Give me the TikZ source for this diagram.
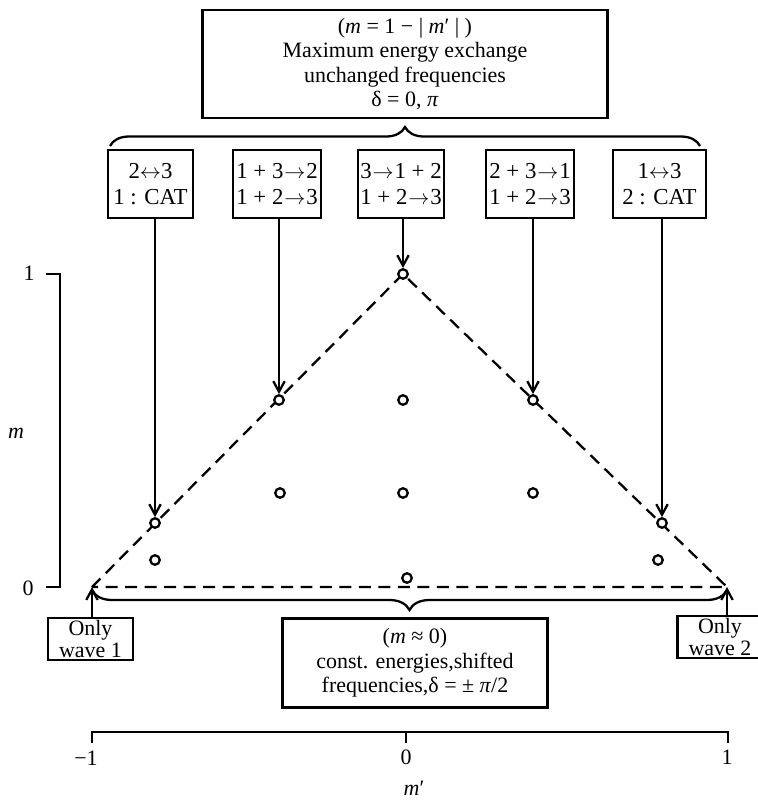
\documentclass[tikz,border=0pt]{standalone}
\usepackage{fontspec}
\setmainfont{Liberation Serif}
\usetikzlibrary{arrows.meta,decorations.pathreplacing}

\newcommand{\goesto}{\hspace{0.5pt}$\rightarrow$\hspace{0.5pt}}
\newcommand{\swaps}{$\leftrightarrow$}

\begin{document}
\begin{tikzpicture}[x=0.02cm,y=-0.02cm,line width=1.3pt,
  >={Straight Barb[length=6pt,width=6.5pt]},
  every node/.style={font=\fontsize{12.5}{14}\selectfont},
  procbox/.style={draw,align=center,inner sep=1pt,minimum height=1.36cm,font=\fontsize{13}{15}\selectfont},
  wavebox/.style={draw,align=center,inner sep=1pt,minimum width=1.7cm,minimum height=0.84cm,font=\fontsize{12.5}{12}\selectfont},
  pt/.style={draw,circle,fill=white,inner sep=0pt,minimum size=0.19cm}]
\useasboundingbox (0,0) rectangle (758,802);

\node[draw,align=center,minimum width=8.1cm,minimum height=2.16cm] (maxbox) at (405,64)
  {(\textit{m} = 1 − | \textit{m}′ | )\\Maximum energy exchange\\unchanged frequencies\\δ = 0, \textit{π}};
\node[draw,align=center,minimum width=5.3cm,minimum height=1.78cm] (constbox) at (415,663)
  {(\textit{m} ≈ 0)\\const. energies,shifted\\frequencies,δ = ± \textit{π}/2};

\node[procbox,minimum width=1.7cm] (b1) at (150.5,184) {2\swaps3\\1 : CAT};
\node[procbox,minimum width=1.76cm] (b2) at (277,184) {1 + 3\goesto2\\1 + 2\goesto3};
\node[procbox,minimum width=1.72cm] (b3) at (401,184) {3\goesto1 + 2\\1 + 2\goesto3};
\node[procbox,minimum width=1.76cm] (b4) at (530,184) {2 + 3\goesto1\\1 + 2\goesto3};
\node[procbox,minimum width=1.86cm] (b5) at (659.5,184) {1\swaps3\\2 : CAT};

\draw[decorate,decoration={brace,amplitude=0.38cm}] (110,146) -- (700,146);
\draw[decorate,decoration={brace,amplitude=0.4cm}] (727,590) -- (92,590);

\coordinate (L) at (92,587);
\coordinate (R) at (727,587);
\coordinate (A) at (403,274);
\draw[dash pattern=on 0.24cm off 0.15cm] (L) -- (A) -- (R) -- cycle;

\node[pt] (apex) at (A) {};
\node[pt] (p1) at (155,523) {};
\node[pt] (p2) at (279,400) {};
\node[pt] (p4) at (533,400) {};
\node[pt] (p5) at (662,523) {};
\foreach \x/\y [count=\i] in {403/400, 280/493, 403/493, 533/493, 155/560, 658/560, 407/578}
  \node[pt] (q\i) at (\x,\y) {};

\draw[->] (b1.south -| p1) -- (p1);
\draw[->] (b2.south -| p2) -- (p2);
\draw[->] (b3.south -| apex) -- (apex);
\draw[->] (b4.south -| p4) -- (p4);
\draw[->] (b5.south -| p5) -- (p5);

\node[wavebox] (w1) at (90.5,639) {Only\\wave 1};
\node[wavebox] (w2) at (720,637) {Only\\wave 2};
\draw[->] (w1.north -| L) -- (L);
\draw[->] (w2.north -| R) -- (R);

\draw (46,274) -- (60,274) -- (60,587) -- (46,587);
\node (mone) at (29,273) {1};
\node (mzero) at (28,588) {0};
\node (mlabel) at (16,433) {\textit{m}};

\draw (92,743) -- (92,732) -- (728,732) -- (728,743);
\draw (406,732) -- (406,743);
\node (xmin) at (86,758) {−1};
\node (xzero) at (406,757) {0};
\node (xmax) at (727,757) {1};
\node (xlabel) at (414,788) {\textit{m}′};
\end{tikzpicture}
\end{document}
